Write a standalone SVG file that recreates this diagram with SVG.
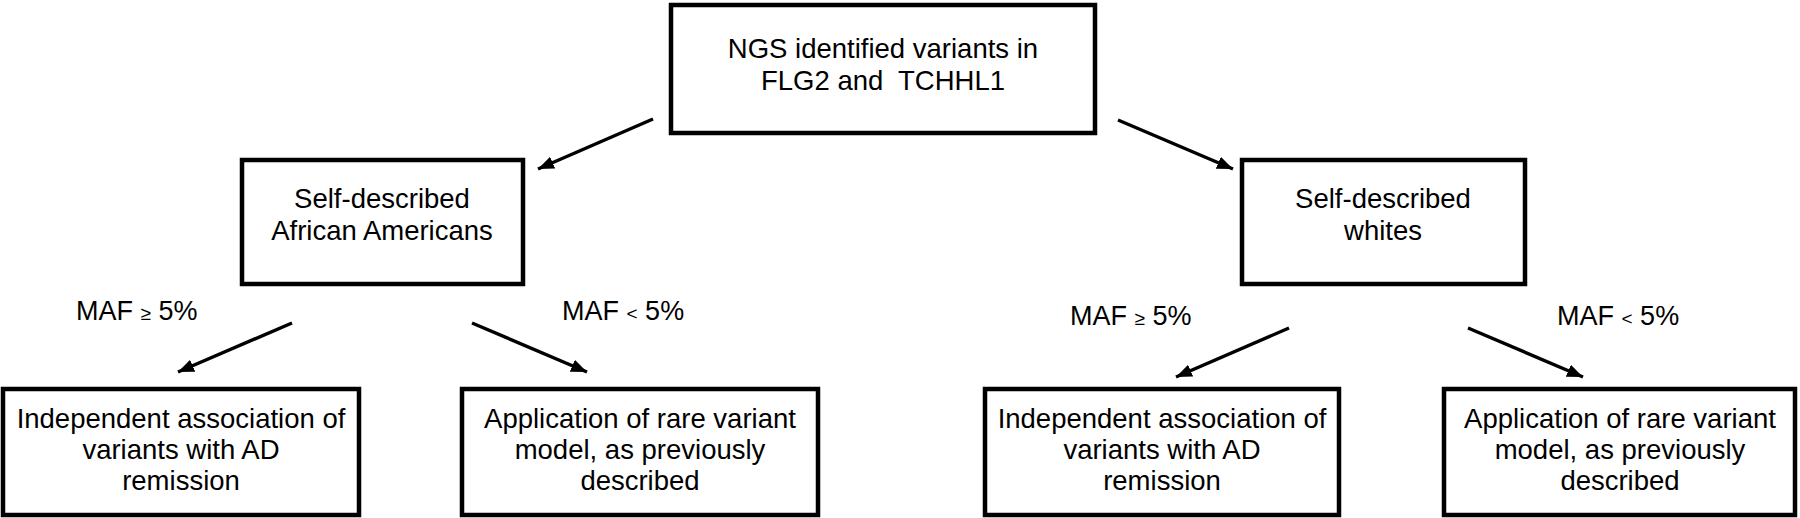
<svg xmlns="http://www.w3.org/2000/svg" width="1800" height="518" viewBox="0 0 1800 518">
<style>
.box{fill:#fff;stroke:#000;stroke-width:4.5}
.t{font-family:"Liberation Sans",Arial,sans-serif;font-size:27.5px;fill:#000;text-anchor:middle}
.m{font-family:"Liberation Sans",Arial,sans-serif;font-size:27px;fill:#000}
.s{font-size:19px}
.c{stroke:#000;stroke-width:3.4;fill:none;marker-end:url(#ah)}
</style>
<defs>
<marker id="ah" markerUnits="userSpaceOnUse" markerWidth="17" markerHeight="14" refX="16" refY="6.5" orient="auto">
<path d="M0,0 L16,6.5 L0,13 Z" fill="#000"/>
</marker>
</defs>
<rect width="1800" height="518" fill="#fff"/>
<g id="n-top">
<rect class="box" x="671" y="5" width="424" height="128"/>
<text class="t" x="883" y="58">NGS identified variants in</text>
<text class="t" x="883" y="90" xml:space="preserve">FLG2 and  TCHHL1</text>
</g>
<g id="n-aa">
<rect class="box" x="242" y="160" width="281" height="124"/>
<text class="t" x="382" y="208">Self-described</text>
<text class="t" x="382" y="240">African Americans</text>
</g>
<g id="n-wh">
<rect class="box" x="1242" y="160" width="283" height="124"/>
<text class="t" x="1383" y="208">Self-described</text>
<text class="t" x="1383" y="240">whites</text>
</g>
<g id="n-aa-common">
<rect class="box" x="3" y="389" width="356" height="126"/>
<text class="t" x="181" y="428">Independent association of</text>
<text class="t" x="181" y="459">variants with AD</text>
<text class="t" x="181" y="490">remission</text>
</g>
<g id="n-aa-rare">
<rect class="box" x="462" y="389" width="356" height="126"/>
<text class="t" x="640" y="428">Application of rare variant</text>
<text class="t" x="640" y="459">model, as previously</text>
<text class="t" x="640" y="490">described</text>
</g>
<g id="n-wh-common">
<rect class="box" x="985" y="389" width="354" height="126"/>
<text class="t" x="1162" y="428">Independent association of</text>
<text class="t" x="1162" y="459">variants with AD</text>
<text class="t" x="1162" y="490">remission</text>
</g>
<g id="n-wh-rare">
<rect class="box" x="1444" y="389" width="351" height="126"/>
<text class="t" x="1620" y="428">Application of rare variant</text>
<text class="t" x="1620" y="459">model, as previously</text>
<text class="t" x="1620" y="490">described</text>
</g>
<g id="labels">
<text class="m" x="76" y="320">MAF <tspan class="s">≥</tspan> 5%</text>
<text class="m" x="562" y="320">MAF <tspan class="s">&lt;</tspan> 5%</text>
<text class="m" x="1070" y="325">MAF <tspan class="s">≥</tspan> 5%</text>
<text class="m" x="1557" y="325">MAF <tspan class="s">&lt;</tspan> 5%</text>
</g>
<g id="connectors">
<line class="c" x1="653" y1="119" x2="538" y2="169"/>
<line class="c" x1="1118" y1="120" x2="1233" y2="169"/>
<line class="c" x1="292" y1="323" x2="178" y2="372"/>
<line class="c" x1="472" y1="323" x2="587" y2="372"/>
<line class="c" x1="1289" y1="328" x2="1176" y2="377"/>
<line class="c" x1="1468" y1="328" x2="1583" y2="377"/>
</g>
</svg>
